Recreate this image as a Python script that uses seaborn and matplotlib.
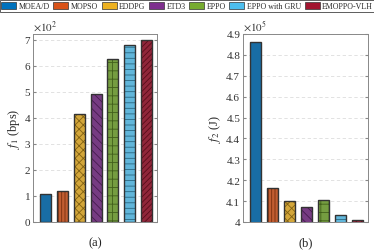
import matplotlib
matplotlib.use("Agg")
import matplotlib.pyplot as plt
import seaborn as sns
import pandas as pd
import numpy as np
from matplotlib.patches import Patch
from matplotlib.colors import to_rgb

methods = ["MOEA/D", "MOPSO", "EDDPG", "ETD3", "EPPO", "EPPO with GRU", "EMOPPO-VLH"]
colors = ["#0072BD", "#D95319", "#EDB120", "#7E2F8E", "#77AC30", "#4DBEEE", "#A2142F"]
hatches = ["", "|||||", "xxxx", "\\\\\\\\", "++", "---", "//////"]
f1_vals = [1.085, 1.20, 4.13, 4.90, 6.26, 6.81, 6.99]      # x10^2 bps
f2_vals = [4.862, 4.163, 4.099, 4.073, 4.107, 4.033, 4.010]  # x10^5 J

sns.set_style("white")
plt.rcParams["font.family"] = ["Liberation Serif", "DejaVu Serif"]
plt.rcParams["mathtext.fontset"] = "stix"
plt.rcParams["hatch.linewidth"] = 0.6

fig = plt.figure(figsize=(3.74, 2.51), dpi=100)
ax1 = fig.add_axes([33/374, 1-223/251, 124/374, 188/251])
ax2 = fig.add_axes([243/374, 1-223/251, 125/374, 188/251])

def dark(c, f=0.55):
    r, g, b = to_rgb(c)
    return (r*f, g*f, b*f)

def draw(ax, vals, ylim, yticks, ylabel, mult, sub):
    df = pd.DataFrame({"m": methods, "v": vals})
    sns.barplot(data=df, x="m", y="v", hue="m", palette=colors, order=methods,
                hue_order=methods, width=0.65, legend=False, ax=ax, dodge=False,
                linewidth=0)
    for p, h, c in zip(ax.patches, hatches, colors):
        p.set_edgecolor(dark(c))
        p.set_hatch(h)
        p.set_linewidth(0)
    sns.barplot(data=df, x="m", y="v", order=methods, width=0.65, fill=False,
                color="#333333", linewidth=1.0, ax=ax, err_kws={"linewidth": 0})
    ax.set_ylim(*ylim)
    ax.set_xlim(-0.72, 6.6)
    ax.set_yticks(yticks)
    ax.set_xticks([])
    ax.set_xlabel("")
    ax.set_ylabel(ylabel, fontsize=9, labelpad=2)
    ax.yaxis.grid(True, linestyle=(0, (4, 3)), color="#dddddd", linewidth=0.6)
    ax.set_axisbelow(True)
    for s in ax.spines.values():
        s.set_color("#888888")
        s.set_linewidth(0.7)
    ax.tick_params(axis="y", direction="in", length=2, labelsize=8, colors="#888888",
                   labelcolor="#333333", pad=2, right=True, left=True)
    ax.text(0.0, 1.005, mult, transform=ax.transAxes, fontsize=8, color="#333333",
            ha="left", va="bottom")
    bb = ax.get_position()
    fig.text((bb.x0 + bb.x1) / 2, 1 - 243/251, sub, fontsize=9, ha="center", va="center",
             color="#222222")

draw(ax1, f1_vals, (0, 7.22), range(0, 8), r"$f_1$ (bps)", r"$\times10^2$", "(a)")
draw(ax2, f2_vals, (4.0, 4.9), np.round(np.arange(4.0, 4.91, 0.1), 1), r"$f_2$ (J)", r"$\times10^5$", "(b)")
ax2.set_yticklabels(["4"] + [f"{v:.1f}" for v in np.arange(4.1, 4.91, 0.1)])

handles = [Patch(facecolor=c, edgecolor="#333333", linewidth=0.5) for c in colors]
leg = fig.legend(handles, methods, loc="upper center", bbox_to_anchor=(0.5, 1.0), ncol=7,
                 fontsize=5.7, frameon=True, fancybox=False, handlelength=1.9, handleheight=1.0,
                 handletextpad=0.3, columnspacing=0.45, borderpad=0.2, borderaxespad=0.15)
leg.get_frame().set_edgecolor("#333333")
leg.get_frame().set_linewidth(0.7)

fig.savefig("out.png", dpi=100)
